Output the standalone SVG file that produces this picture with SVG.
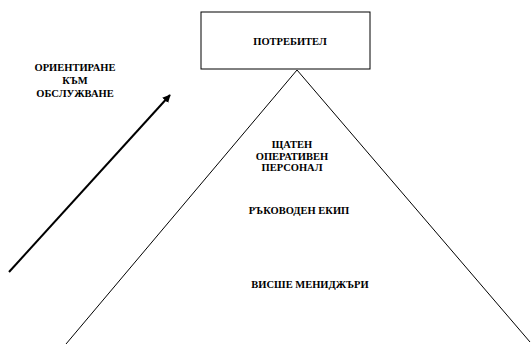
<svg xmlns="http://www.w3.org/2000/svg" width="531" height="344" viewBox="0 0 531 344">
<style>
text{font-family:"Liberation Serif","Times New Roman",serif;font-weight:bold;font-size:10.5px;fill:#000;text-anchor:middle}
.ln{stroke:#000;stroke-width:1;fill:none}
</style>
<defs>
<marker id="ah" viewBox="0 0 10 10" refX="9" refY="5" markerWidth="4" markerHeight="4" orient="auto" markerUnits="strokeWidth">
<path d="M0,0 L10,5 L0,10 z" fill="#000"/>
</marker>
</defs>
<rect width="531" height="344" fill="#fff"/>
<g id="connectors">
<path class="ln" d="M66,344 L297,70 L530,342"/>
<line x1="9" y1="272" x2="170" y2="95" stroke="#000" stroke-width="2" marker-end="url(#ah)"/>
</g>
<g id="consumer">
<rect x="201" y="12" width="169" height="57" fill="#fff" stroke="#000" stroke-width="1"/>
<text x="290" y="45">ПОТРЕБИТЕЛ</text>
</g>
<g id="orientation">
<text x="75" y="71">ОРИЕНТИРАНЕ</text>
<text x="75" y="84">КЪМ</text>
<text x="75" y="97">ОБСЛУЖВАНЕ</text>
</g>
<g id="staff">
<text x="292" y="148">ЩАТЕН</text>
<text x="292" y="160">ОПЕРАТИВЕН</text>
<text x="292" y="171">ПЕРСОНАЛ</text>
</g>
<g id="management">
<text x="299" y="214">РЪКОВОДЕН ЕКИП</text>
</g>
<g id="senior">
<text x="310" y="288">ВИСШЕ МЕНИДЖЪРИ</text>
</g>
</svg>
